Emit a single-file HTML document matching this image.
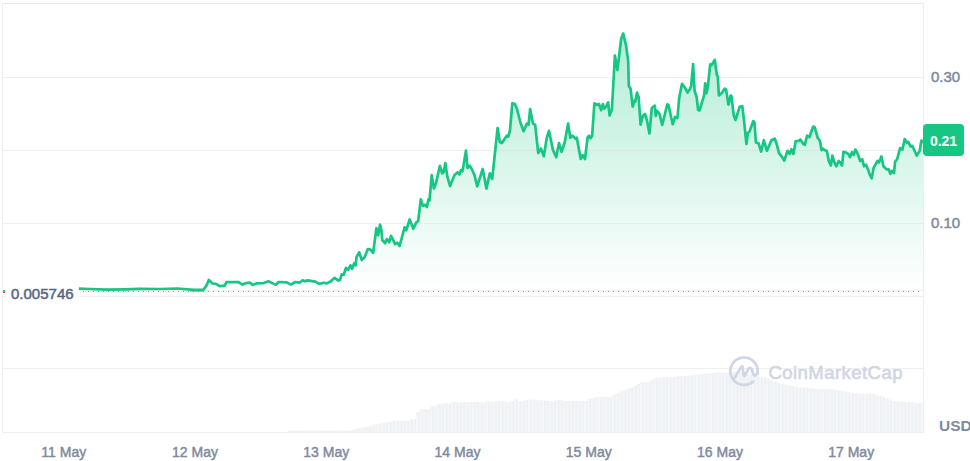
<!DOCTYPE html>
<html><head><meta charset="utf-8"><style>
html,body{margin:0;padding:0;background:#fff;}
body{width:970px;height:461px;position:relative;overflow:hidden;font-family:"Liberation Sans",sans-serif;}
svg{position:absolute;left:0;top:0;}
.xl{position:absolute;top:444px;width:80px;text-align:center;font-size:14px;color:#808a9d;line-height:16px;-webkit-text-stroke:0.45px #808a9d;}
.yl{position:absolute;left:931px;font-size:15px;color:#808a9d;line-height:16px;-webkit-text-stroke:0.5px #808a9d;}
.badge{position:absolute;left:923px;top:124px;width:41px;height:32px;background:#16c784;border-radius:4px;color:#fff;font-weight:bold;font-size:14px;line-height:34px;text-align:center;}
.open{position:absolute;left:11px;top:286px;font-size:15px;color:#58667e;line-height:16px;-webkit-text-stroke:0.5px #58667e;}
.usd{position:absolute;left:939px;top:418px;font-size:15.5px;color:#808a9d;font-weight:bold;line-height:16px;}
.wm{position:absolute;left:768.5px;top:363px;font-size:18.5px;letter-spacing:0.45px;color:#cfd6e4;line-height:20px;-webkit-text-stroke:0.6px #cfd6e4;}
</style></head><body>
<svg width="970" height="461" viewBox="0 0 970 461">
<defs>
<linearGradient id="g" x1="0" y1="32" x2="0" y2="291" gradientUnits="userSpaceOnUse">
<stop offset="0" stop-color="#16c784" stop-opacity="0.33"/>
<stop offset="1" stop-color="#16c784" stop-opacity="0.0"/>
</linearGradient>
</defs>
<g shape-rendering="crispEdges" fill="#efefef">
<rect x="3" y="3" width="921" height="1" fill="#e8eaea"/>
<rect x="2" y="3" width="1" height="430" fill="#eeeeee"/>
<rect x="923" y="3" width="1" height="430" fill="#eeeeee"/>
<rect x="2" y="432" width="922" height="1" fill="#eeeeee"/>
<rect x="3" y="77" width="920" height="1"/>
<rect x="3" y="150" width="920" height="1"/>
<rect x="3" y="223" width="920" height="1"/>
<rect x="3" y="296" width="920" height="1"/>
<rect x="3" y="368" width="920" height="1"/>
</g>
<polygon points="288,432 288,430.5 290,430.5 290,430.5 293.5,430.5 293.5,430.5 297,430.5 297,430.5 300.5,430.5 300.5,430.5 304,430.5 304,430.5 307.5,430.5 307.5,430.5 311,430.5 311,430.5 314.5,430.5 314.5,430.5 318,430.5 318,430.5 321.5,430.5 321.5,430.5 325,430.5 325,430.5 328.5,430.5 328.5,430.5 332,430.5 332,430.5 335.5,430.5 335.5,430.5 339,430.5 339,430.5 342.5,430.5 342.5,430.5 346,430.5 346,430.5 349.5,430.5 349.5,430.5 353,430.5 353,429.01 356.5,429.01 356.5,428.38 360,428.38 360,427.78 363.5,427.78 363.5,427.22 367,427.22 367,426.44 370.5,426.44 370.5,425.52 374,425.52 374,424.6 377.5,424.6 377.5,423.76 381,423.76 381,422.96 384.5,422.96 384.5,422.45 388,422.45 388,421.98 391.5,421.98 391.5,420.96 395,420.96 395,420.67 398.5,420.67 398.5,420.76 402,420.76 402,420.86 405.5,420.86 405.5,420.96 409,420.96 409,419.3 412.5,419.3 412.5,419.3 416,419.3 416,412 419.5,412 419.5,409.3 423,409.3 423,409.3 426.5,409.3 426.5,409.3 430,409.3 430,406.3 433.5,406.3 433.5,406.3 437,406.3 437,404 440.5,404 440.5,404 444,404 444,403.2 447.5,403.2 447.5,403.2 451,403.2 451,402 454.5,402 454.5,402 458,402 458,402.79 461.5,402.79 461.5,402.21 465,402.21 465,402.01 468.5,402.01 468.5,402.03 472,402.03 472,402.04 475.5,402.04 475.5,402.06 479,402.06 479,402.07 482.5,402.07 482.5,402.09 486,402.09 486,401.27 489.5,401.27 489.5,401.43 493,401.43 493,401.63 496.5,401.63 496.5,400.86 500,400.86 500,401.26 503.5,401.26 503.5,401.65 507,401.65 507,402.05 510.5,402.05 510.5,400.77 514,400.77 514,399.55 517.5,399.55 517.5,401 521,401 521,400.65 524.5,400.65 524.5,400.17 528,400.17 528,399.69 531.5,399.69 531.5,399.52 535,399.52 535,399.82 538.5,399.82 538.5,400.13 542,400.13 542,400.43 545.5,400.43 545.5,400.74 549,400.74 549,401.04 552.5,401.04 552.5,400.58 556,400.58 556,399.95 559.5,399.95 559.5,400.06 563,400.06 563,401.09 566.5,401.09 566.5,401.1 570,401.1 570,401.1 573.5,401.1 573.5,401.1 577,401.1 577,401.1 580.5,401.1 580.5,401.1 584,401.1 584,400.93 587.5,400.93 587.5,398.84 591,398.84 591,397.99 594.5,397.99 594.5,397.13 598,397.13 598,397 601.5,397 601.5,397 605,397 605,397 608.5,397 608.5,397 612,397 612,394.75 615.5,394.75 615.5,392.8 619,392.8 619,391.49 622.5,391.49 622.5,390.12 626,390.12 626,388.86 629.5,388.86 629.5,388.07 633,388.07 633,385.94 636.5,385.94 636.5,383.76 640,383.76 640,382 643.5,382 643.5,382 647,382 647,382 650.5,382 650.5,379.75 654,379.75 654,378.26 657.5,378.26 657.5,377.72 661,377.72 661,377.35 664.5,377.35 664.5,376.98 668,376.98 668,376.96 671.5,376.96 671.5,376.77 675,376.77 675,376.57 678.5,376.57 678.5,376.36 682,376.36 682,376.1 685.5,376.1 685.5,375.84 689,375.84 689,375.55 692.5,375.55 692.5,375.09 696,375.09 696,374.63 699.5,374.63 699.5,374.21 703,374.21 703,373.82 706.5,373.82 706.5,373.44 710,373.44 710,373.11 713.5,373.11 713.5,372.8 717,372.8 717,372.48 720.5,372.48 720.5,372.38 724,372.38 724,372.55 727.5,372.55 727.5,372.5 731,372.5 731,372.37 734.5,372.37 734.5,372.23 738,372.23 738,372.09 741.5,372.09 741.5,372.33 745,372.33 745,373.25 748.5,373.25 748.5,374.17 752,374.17 752,375.1 755.5,375.1 755.5,376.02 759,376.02 759,376.8 762.5,376.8 762.5,377.5 766,377.5 766,378.53 769.5,378.53 769.5,380.05 773,380.05 773,381.57 776.5,381.57 776.5,382.83 780,382.83 780,383.69 783.5,383.69 783.5,384.55 787,384.55 787,385.41 790.5,385.41 790.5,386.06 794,386.06 794,386.67 797.5,386.67 797.5,387.16 801,387.16 801,387.51 804.5,387.51 804.5,387.85 808,387.85 808,388.2 811.5,388.2 811.5,388.55 815,388.55 815,388.92 818.5,388.92 818.5,389.28 822,389.28 822,389.3 825.5,389.3 825.5,389.3 829,389.3 829,389.3 832.5,389.3 832.5,389.6 836,389.6 836,390.19 839.5,390.19 839.5,390.79 843,390.79 843,391.41 846.5,391.41 846.5,392.06 850,392.06 850,392.72 853.5,392.72 853.5,393.21 857,393.21 857,393.48 860.5,393.48 860.5,393.75 864,393.75 864,393.8 867.5,393.8 867.5,393.8 871,393.8 871,393.8 874.5,393.8 874.5,394.63 878,394.63 878,395.69 881.5,395.69 881.5,396.98 885,396.98 885,398.4 888.5,398.4 888.5,399.65 892,399.65 892,400.66 895.5,400.66 895.5,401.45 899,401.45 899,401.63 902.5,401.63 902.5,401.82 906,401.82 906,402 909.5,402 909.5,402.19 913,402.19 913,402.54 916.5,402.54 916.5,402.91 920,402.91 920,402.49 922.5,402.49 922.5,432" fill="#f3f5f7"/>
<g fill="#eef1f4" clip-path="url(#vc)"><rect x="288.60" y="360" width="1.4" height="73"/><rect x="292.10" y="360" width="1.4" height="73"/><rect x="295.60" y="360" width="1.4" height="73"/><rect x="299.10" y="360" width="1.4" height="73"/><rect x="302.60" y="360" width="1.4" height="73"/><rect x="306.10" y="360" width="1.4" height="73"/><rect x="309.60" y="360" width="1.4" height="73"/><rect x="313.10" y="360" width="1.4" height="73"/><rect x="316.60" y="360" width="1.4" height="73"/><rect x="320.10" y="360" width="1.4" height="73"/><rect x="323.60" y="360" width="1.4" height="73"/><rect x="327.10" y="360" width="1.4" height="73"/><rect x="330.60" y="360" width="1.4" height="73"/><rect x="334.10" y="360" width="1.4" height="73"/><rect x="337.60" y="360" width="1.4" height="73"/><rect x="341.10" y="360" width="1.4" height="73"/><rect x="344.60" y="360" width="1.4" height="73"/><rect x="348.10" y="360" width="1.4" height="73"/><rect x="351.60" y="360" width="1.4" height="73"/><rect x="355.10" y="360" width="1.4" height="73"/><rect x="358.60" y="360" width="1.4" height="73"/><rect x="362.10" y="360" width="1.4" height="73"/><rect x="365.60" y="360" width="1.4" height="73"/><rect x="369.10" y="360" width="1.4" height="73"/><rect x="372.60" y="360" width="1.4" height="73"/><rect x="376.10" y="360" width="1.4" height="73"/><rect x="379.60" y="360" width="1.4" height="73"/><rect x="383.10" y="360" width="1.4" height="73"/><rect x="386.60" y="360" width="1.4" height="73"/><rect x="390.10" y="360" width="1.4" height="73"/><rect x="393.60" y="360" width="1.4" height="73"/><rect x="397.10" y="360" width="1.4" height="73"/><rect x="400.60" y="360" width="1.4" height="73"/><rect x="404.10" y="360" width="1.4" height="73"/><rect x="407.60" y="360" width="1.4" height="73"/><rect x="411.10" y="360" width="1.4" height="73"/><rect x="414.60" y="360" width="1.4" height="73"/><rect x="418.10" y="360" width="1.4" height="73"/><rect x="421.60" y="360" width="1.4" height="73"/><rect x="425.10" y="360" width="1.4" height="73"/><rect x="428.60" y="360" width="1.4" height="73"/><rect x="432.10" y="360" width="1.4" height="73"/><rect x="435.60" y="360" width="1.4" height="73"/><rect x="439.10" y="360" width="1.4" height="73"/><rect x="442.60" y="360" width="1.4" height="73"/><rect x="446.10" y="360" width="1.4" height="73"/><rect x="449.60" y="360" width="1.4" height="73"/><rect x="453.10" y="360" width="1.4" height="73"/><rect x="456.60" y="360" width="1.4" height="73"/><rect x="460.10" y="360" width="1.4" height="73"/><rect x="463.60" y="360" width="1.4" height="73"/><rect x="467.10" y="360" width="1.4" height="73"/><rect x="470.60" y="360" width="1.4" height="73"/><rect x="474.10" y="360" width="1.4" height="73"/><rect x="477.60" y="360" width="1.4" height="73"/><rect x="481.10" y="360" width="1.4" height="73"/><rect x="484.60" y="360" width="1.4" height="73"/><rect x="488.10" y="360" width="1.4" height="73"/><rect x="491.60" y="360" width="1.4" height="73"/><rect x="495.10" y="360" width="1.4" height="73"/><rect x="498.60" y="360" width="1.4" height="73"/><rect x="502.10" y="360" width="1.4" height="73"/><rect x="505.60" y="360" width="1.4" height="73"/><rect x="509.10" y="360" width="1.4" height="73"/><rect x="512.60" y="360" width="1.4" height="73"/><rect x="516.10" y="360" width="1.4" height="73"/><rect x="519.60" y="360" width="1.4" height="73"/><rect x="523.10" y="360" width="1.4" height="73"/><rect x="526.60" y="360" width="1.4" height="73"/><rect x="530.10" y="360" width="1.4" height="73"/><rect x="533.60" y="360" width="1.4" height="73"/><rect x="537.10" y="360" width="1.4" height="73"/><rect x="540.60" y="360" width="1.4" height="73"/><rect x="544.10" y="360" width="1.4" height="73"/><rect x="547.60" y="360" width="1.4" height="73"/><rect x="551.10" y="360" width="1.4" height="73"/><rect x="554.60" y="360" width="1.4" height="73"/><rect x="558.10" y="360" width="1.4" height="73"/><rect x="561.60" y="360" width="1.4" height="73"/><rect x="565.10" y="360" width="1.4" height="73"/><rect x="568.60" y="360" width="1.4" height="73"/><rect x="572.10" y="360" width="1.4" height="73"/><rect x="575.60" y="360" width="1.4" height="73"/><rect x="579.10" y="360" width="1.4" height="73"/><rect x="582.60" y="360" width="1.4" height="73"/><rect x="586.10" y="360" width="1.4" height="73"/><rect x="589.60" y="360" width="1.4" height="73"/><rect x="593.10" y="360" width="1.4" height="73"/><rect x="596.60" y="360" width="1.4" height="73"/><rect x="600.10" y="360" width="1.4" height="73"/><rect x="603.60" y="360" width="1.4" height="73"/><rect x="607.10" y="360" width="1.4" height="73"/><rect x="610.60" y="360" width="1.4" height="73"/><rect x="614.10" y="360" width="1.4" height="73"/><rect x="617.60" y="360" width="1.4" height="73"/><rect x="621.10" y="360" width="1.4" height="73"/><rect x="624.60" y="360" width="1.4" height="73"/><rect x="628.10" y="360" width="1.4" height="73"/><rect x="631.60" y="360" width="1.4" height="73"/><rect x="635.10" y="360" width="1.4" height="73"/><rect x="638.60" y="360" width="1.4" height="73"/><rect x="642.10" y="360" width="1.4" height="73"/><rect x="645.60" y="360" width="1.4" height="73"/><rect x="649.10" y="360" width="1.4" height="73"/><rect x="652.60" y="360" width="1.4" height="73"/><rect x="656.10" y="360" width="1.4" height="73"/><rect x="659.60" y="360" width="1.4" height="73"/><rect x="663.10" y="360" width="1.4" height="73"/><rect x="666.60" y="360" width="1.4" height="73"/><rect x="670.10" y="360" width="1.4" height="73"/><rect x="673.60" y="360" width="1.4" height="73"/><rect x="677.10" y="360" width="1.4" height="73"/><rect x="680.60" y="360" width="1.4" height="73"/><rect x="684.10" y="360" width="1.4" height="73"/><rect x="687.60" y="360" width="1.4" height="73"/><rect x="691.10" y="360" width="1.4" height="73"/><rect x="694.60" y="360" width="1.4" height="73"/><rect x="698.10" y="360" width="1.4" height="73"/><rect x="701.60" y="360" width="1.4" height="73"/><rect x="705.10" y="360" width="1.4" height="73"/><rect x="708.60" y="360" width="1.4" height="73"/><rect x="712.10" y="360" width="1.4" height="73"/><rect x="715.60" y="360" width="1.4" height="73"/><rect x="719.10" y="360" width="1.4" height="73"/><rect x="722.60" y="360" width="1.4" height="73"/><rect x="726.10" y="360" width="1.4" height="73"/><rect x="729.60" y="360" width="1.4" height="73"/><rect x="733.10" y="360" width="1.4" height="73"/><rect x="736.60" y="360" width="1.4" height="73"/><rect x="740.10" y="360" width="1.4" height="73"/><rect x="743.60" y="360" width="1.4" height="73"/><rect x="747.10" y="360" width="1.4" height="73"/><rect x="750.60" y="360" width="1.4" height="73"/><rect x="754.10" y="360" width="1.4" height="73"/><rect x="757.60" y="360" width="1.4" height="73"/><rect x="761.10" y="360" width="1.4" height="73"/><rect x="764.60" y="360" width="1.4" height="73"/><rect x="768.10" y="360" width="1.4" height="73"/><rect x="771.60" y="360" width="1.4" height="73"/><rect x="775.10" y="360" width="1.4" height="73"/><rect x="778.60" y="360" width="1.4" height="73"/><rect x="782.10" y="360" width="1.4" height="73"/><rect x="785.60" y="360" width="1.4" height="73"/><rect x="789.10" y="360" width="1.4" height="73"/><rect x="792.60" y="360" width="1.4" height="73"/><rect x="796.10" y="360" width="1.4" height="73"/><rect x="799.60" y="360" width="1.4" height="73"/><rect x="803.10" y="360" width="1.4" height="73"/><rect x="806.60" y="360" width="1.4" height="73"/><rect x="810.10" y="360" width="1.4" height="73"/><rect x="813.60" y="360" width="1.4" height="73"/><rect x="817.10" y="360" width="1.4" height="73"/><rect x="820.60" y="360" width="1.4" height="73"/><rect x="824.10" y="360" width="1.4" height="73"/><rect x="827.60" y="360" width="1.4" height="73"/><rect x="831.10" y="360" width="1.4" height="73"/><rect x="834.60" y="360" width="1.4" height="73"/><rect x="838.10" y="360" width="1.4" height="73"/><rect x="841.60" y="360" width="1.4" height="73"/><rect x="845.10" y="360" width="1.4" height="73"/><rect x="848.60" y="360" width="1.4" height="73"/><rect x="852.10" y="360" width="1.4" height="73"/><rect x="855.60" y="360" width="1.4" height="73"/><rect x="859.10" y="360" width="1.4" height="73"/><rect x="862.60" y="360" width="1.4" height="73"/><rect x="866.10" y="360" width="1.4" height="73"/><rect x="869.60" y="360" width="1.4" height="73"/><rect x="873.10" y="360" width="1.4" height="73"/><rect x="876.60" y="360" width="1.4" height="73"/><rect x="880.10" y="360" width="1.4" height="73"/><rect x="883.60" y="360" width="1.4" height="73"/><rect x="887.10" y="360" width="1.4" height="73"/><rect x="890.60" y="360" width="1.4" height="73"/><rect x="894.10" y="360" width="1.4" height="73"/><rect x="897.60" y="360" width="1.4" height="73"/><rect x="901.10" y="360" width="1.4" height="73"/><rect x="904.60" y="360" width="1.4" height="73"/><rect x="908.10" y="360" width="1.4" height="73"/><rect x="911.60" y="360" width="1.4" height="73"/><rect x="915.10" y="360" width="1.4" height="73"/><rect x="918.60" y="360" width="1.4" height="73"/></g>
<clipPath id="vc"><polygon points="288,432 288,430.5 290,430.5 290,430.5 293.5,430.5 293.5,430.5 297,430.5 297,430.5 300.5,430.5 300.5,430.5 304,430.5 304,430.5 307.5,430.5 307.5,430.5 311,430.5 311,430.5 314.5,430.5 314.5,430.5 318,430.5 318,430.5 321.5,430.5 321.5,430.5 325,430.5 325,430.5 328.5,430.5 328.5,430.5 332,430.5 332,430.5 335.5,430.5 335.5,430.5 339,430.5 339,430.5 342.5,430.5 342.5,430.5 346,430.5 346,430.5 349.5,430.5 349.5,430.5 353,430.5 353,429.01 356.5,429.01 356.5,428.38 360,428.38 360,427.78 363.5,427.78 363.5,427.22 367,427.22 367,426.44 370.5,426.44 370.5,425.52 374,425.52 374,424.6 377.5,424.6 377.5,423.76 381,423.76 381,422.96 384.5,422.96 384.5,422.45 388,422.45 388,421.98 391.5,421.98 391.5,420.96 395,420.96 395,420.67 398.5,420.67 398.5,420.76 402,420.76 402,420.86 405.5,420.86 405.5,420.96 409,420.96 409,419.3 412.5,419.3 412.5,419.3 416,419.3 416,412 419.5,412 419.5,409.3 423,409.3 423,409.3 426.5,409.3 426.5,409.3 430,409.3 430,406.3 433.5,406.3 433.5,406.3 437,406.3 437,404 440.5,404 440.5,404 444,404 444,403.2 447.5,403.2 447.5,403.2 451,403.2 451,402 454.5,402 454.5,402 458,402 458,402.79 461.5,402.79 461.5,402.21 465,402.21 465,402.01 468.5,402.01 468.5,402.03 472,402.03 472,402.04 475.5,402.04 475.5,402.06 479,402.06 479,402.07 482.5,402.07 482.5,402.09 486,402.09 486,401.27 489.5,401.27 489.5,401.43 493,401.43 493,401.63 496.5,401.63 496.5,400.86 500,400.86 500,401.26 503.5,401.26 503.5,401.65 507,401.65 507,402.05 510.5,402.05 510.5,400.77 514,400.77 514,399.55 517.5,399.55 517.5,401 521,401 521,400.65 524.5,400.65 524.5,400.17 528,400.17 528,399.69 531.5,399.69 531.5,399.52 535,399.52 535,399.82 538.5,399.82 538.5,400.13 542,400.13 542,400.43 545.5,400.43 545.5,400.74 549,400.74 549,401.04 552.5,401.04 552.5,400.58 556,400.58 556,399.95 559.5,399.95 559.5,400.06 563,400.06 563,401.09 566.5,401.09 566.5,401.1 570,401.1 570,401.1 573.5,401.1 573.5,401.1 577,401.1 577,401.1 580.5,401.1 580.5,401.1 584,401.1 584,400.93 587.5,400.93 587.5,398.84 591,398.84 591,397.99 594.5,397.99 594.5,397.13 598,397.13 598,397 601.5,397 601.5,397 605,397 605,397 608.5,397 608.5,397 612,397 612,394.75 615.5,394.75 615.5,392.8 619,392.8 619,391.49 622.5,391.49 622.5,390.12 626,390.12 626,388.86 629.5,388.86 629.5,388.07 633,388.07 633,385.94 636.5,385.94 636.5,383.76 640,383.76 640,382 643.5,382 643.5,382 647,382 647,382 650.5,382 650.5,379.75 654,379.75 654,378.26 657.5,378.26 657.5,377.72 661,377.72 661,377.35 664.5,377.35 664.5,376.98 668,376.98 668,376.96 671.5,376.96 671.5,376.77 675,376.77 675,376.57 678.5,376.57 678.5,376.36 682,376.36 682,376.1 685.5,376.1 685.5,375.84 689,375.84 689,375.55 692.5,375.55 692.5,375.09 696,375.09 696,374.63 699.5,374.63 699.5,374.21 703,374.21 703,373.82 706.5,373.82 706.5,373.44 710,373.44 710,373.11 713.5,373.11 713.5,372.8 717,372.8 717,372.48 720.5,372.48 720.5,372.38 724,372.38 724,372.55 727.5,372.55 727.5,372.5 731,372.5 731,372.37 734.5,372.37 734.5,372.23 738,372.23 738,372.09 741.5,372.09 741.5,372.33 745,372.33 745,373.25 748.5,373.25 748.5,374.17 752,374.17 752,375.1 755.5,375.1 755.5,376.02 759,376.02 759,376.8 762.5,376.8 762.5,377.5 766,377.5 766,378.53 769.5,378.53 769.5,380.05 773,380.05 773,381.57 776.5,381.57 776.5,382.83 780,382.83 780,383.69 783.5,383.69 783.5,384.55 787,384.55 787,385.41 790.5,385.41 790.5,386.06 794,386.06 794,386.67 797.5,386.67 797.5,387.16 801,387.16 801,387.51 804.5,387.51 804.5,387.85 808,387.85 808,388.2 811.5,388.2 811.5,388.55 815,388.55 815,388.92 818.5,388.92 818.5,389.28 822,389.28 822,389.3 825.5,389.3 825.5,389.3 829,389.3 829,389.3 832.5,389.3 832.5,389.6 836,389.6 836,390.19 839.5,390.19 839.5,390.79 843,390.79 843,391.41 846.5,391.41 846.5,392.06 850,392.06 850,392.72 853.5,392.72 853.5,393.21 857,393.21 857,393.48 860.5,393.48 860.5,393.75 864,393.75 864,393.8 867.5,393.8 867.5,393.8 871,393.8 871,393.8 874.5,393.8 874.5,394.63 878,394.63 878,395.69 881.5,395.69 881.5,396.98 885,396.98 885,398.4 888.5,398.4 888.5,399.65 892,399.65 892,400.66 895.5,400.66 895.5,401.45 899,401.45 899,401.63 902.5,401.63 902.5,401.82 906,401.82 906,402 909.5,402 909.5,402.19 913,402.19 913,402.54 916.5,402.54 916.5,402.91 920,402.91 920,402.49 922.5,402.49 922.5,432"/></clipPath>
<polygon points="79,288.7 90,289 107,289.6 125,289.3 139,288.8 160,289 177.5,288.5 194,289.8 203.5,289.8 206.6,285.2 208.8,279.9 212.4,283.5 216,283.9 219.6,286.1 224.7,285.7 226.5,282.1 231.2,282.1 238.2,282 242.6,284.6 246.2,283.1 249.8,282.7 252.7,284.9 256.3,283.4 263.5,283.1 268.5,281.3 272.2,283.1 275.8,284.9 278.6,282 286.6,282.4 290.9,284.6 295.2,282 299.6,282.7 302.5,280.3 305.3,281.3 307.5,280.3 315.4,281.7 319,283.9 324.1,282.8 326.3,283.4 330.6,281.6 334.6,277.8 338.2,280.6 340,279.9 341.7,274.3 343.8,274.7 345.9,268 348.3,269.8 350.4,265.3 352.1,268.8 354.2,263.2 355.6,265.3 356.6,256.8 359.1,252.3 361.8,260 364.6,257.3 367.8,249.1 370.5,249.6 373.2,252.8 376.4,228.2 378.2,235.5 380,224.6 381.4,230 382.3,240 385.1,243.2 386.9,239.1 389.2,242.3 391,235.9 392.8,239.1 395.1,244.1 397.4,242.8 399.6,246 404.6,227.4 406.2,230.3 409.7,219.5 413.3,228.7 416.5,222.2 418.2,221.1 420.8,199.4 423,205.9 425.2,204.8 426.9,207 428.4,199.4 429.5,200.5 431.7,175.1 433.9,188.6 436,183.1 439.9,165.8 442.1,173.4 443.6,172.3 445.4,163 447.3,176.6 450.1,186 454.5,175.1 457.7,172.3 459.5,174.5 461,170.1 462.5,171.2 466,150.6 467.5,168 469.7,165.8 471.8,169 474.6,175.5 477.2,186.4 482.7,169 486.4,188.6 489.8,173.4 492.2,178.9 497.6,128 499.8,142 501.9,143.1 506.9,135.6 508.4,136.6 510,130.1 512.3,103.4 514.9,104.1 517.1,109.5 520.4,122.5 523.6,131.2 526.9,123.6 528.6,124.7 530.1,109.1 533,123.6 535.1,124.7 538.2,152.9 541,148.6 543.8,156.2 546.8,137.7 549,130.8 552.9,149.7 556.2,157.2 559,143.1 561.6,151.8 564.8,142 568.1,123.6 570.3,137.7 572.4,135.6 575.7,138.8 576.8,137.7 580.7,159 582.8,155.1 585,159 587.6,137.5 589.1,135.7 590.6,138.2 592.1,136 594.4,103.3 596.7,104.9 599,104.1 601.2,110.2 602.8,104.1 604.3,108.7 606.1,106.4 608.1,102.3 609.6,115.5 611.9,109.4 614.9,55.5 617.4,70 621.2,38.5 623.2,33.6 626,45.3 628.2,61 628.8,86 630.5,88.5 632.7,106.5 634.4,100.8 635.3,101.5 637,92.7 638.6,97 640.6,124.7 642.9,115.8 645,114 647,120.5 649.4,133.5 651.8,108 654.8,105.6 655.8,115.8 657.2,111 659.6,114 662.2,125 667.3,104.4 668.5,105 672.7,124.2 675.1,117 677.4,118 679.2,97.9 682,83.8 684.6,87.2 687.6,92.5 690,89 691.2,85.7 693.1,64 694.6,91 696.6,97 698.1,109.9 699.6,110.4 702.6,100.1 704.1,95.5 705.2,83.4 706.4,93.2 707.9,86.4 710.2,64.4 711.7,65.2 712.9,62.9 714.8,59.9 716.7,74.3 717.8,76.6 718.9,95.5 721.6,93.2 724.6,88.7 726.1,89.5 728.4,104.6 730.7,95.5 731.5,96.3 733.7,115.2 735.5,120 739.6,106.8 742.3,106.1 744.1,121.2 746.4,144 747.9,132.6 749.4,131.9 753.2,121.2 754.4,122 755.9,142.5 758.5,143.2 761.1,151.6 763.8,140.2 766.9,150.8 771.4,140.2 774.8,138.7 776.7,144 779,153.1 782,156.9 784.3,160.7 787.4,150.8 789.6,153.9 791.4,149.3 793.4,153.9 795.7,141 798.7,141 800.3,139.5 803.3,144 804.8,144.8 807.1,135.7 809.4,137.2 813.1,126.6 814.7,127.3 817.7,137.9 820,141 821.5,150.1 823,148.6 824.5,150.1 826.8,151.1 828.8,161 830.8,165.5 832.3,155.7 834.4,162.5 836.4,166.3 838.7,161 840.2,162.5 842,165.5 843.5,151.9 846.2,152.6 848.5,154.1 850,157.2 852,152.2 853.8,154.9 855.3,149.6 856.9,151.9 860.2,161 862.2,159.2 864.1,166.3 866,164.8 868.2,170.1 869.8,174.6 871.7,178.4 873.6,167.8 877.4,161 878.9,162.5 881.4,156.4 883.4,166.3 886.5,169.3 888.7,169.3 890.3,173.9 891.8,170.8 894,173.1 895.1,161.7 897.1,159.4 900.1,148.1 902.4,149.6 904.7,139 906.9,142.8 908.2,142 910.7,146.6 912.3,145.8 916.8,155.7 919.8,150.3 921.4,140.5 923,142 923,291 79,291" fill="#fff"/>
<polygon points="79,288.7 90,289 107,289.6 125,289.3 139,288.8 160,289 177.5,288.5 194,289.8 203.5,289.8 206.6,285.2 208.8,279.9 212.4,283.5 216,283.9 219.6,286.1 224.7,285.7 226.5,282.1 231.2,282.1 238.2,282 242.6,284.6 246.2,283.1 249.8,282.7 252.7,284.9 256.3,283.4 263.5,283.1 268.5,281.3 272.2,283.1 275.8,284.9 278.6,282 286.6,282.4 290.9,284.6 295.2,282 299.6,282.7 302.5,280.3 305.3,281.3 307.5,280.3 315.4,281.7 319,283.9 324.1,282.8 326.3,283.4 330.6,281.6 334.6,277.8 338.2,280.6 340,279.9 341.7,274.3 343.8,274.7 345.9,268 348.3,269.8 350.4,265.3 352.1,268.8 354.2,263.2 355.6,265.3 356.6,256.8 359.1,252.3 361.8,260 364.6,257.3 367.8,249.1 370.5,249.6 373.2,252.8 376.4,228.2 378.2,235.5 380,224.6 381.4,230 382.3,240 385.1,243.2 386.9,239.1 389.2,242.3 391,235.9 392.8,239.1 395.1,244.1 397.4,242.8 399.6,246 404.6,227.4 406.2,230.3 409.7,219.5 413.3,228.7 416.5,222.2 418.2,221.1 420.8,199.4 423,205.9 425.2,204.8 426.9,207 428.4,199.4 429.5,200.5 431.7,175.1 433.9,188.6 436,183.1 439.9,165.8 442.1,173.4 443.6,172.3 445.4,163 447.3,176.6 450.1,186 454.5,175.1 457.7,172.3 459.5,174.5 461,170.1 462.5,171.2 466,150.6 467.5,168 469.7,165.8 471.8,169 474.6,175.5 477.2,186.4 482.7,169 486.4,188.6 489.8,173.4 492.2,178.9 497.6,128 499.8,142 501.9,143.1 506.9,135.6 508.4,136.6 510,130.1 512.3,103.4 514.9,104.1 517.1,109.5 520.4,122.5 523.6,131.2 526.9,123.6 528.6,124.7 530.1,109.1 533,123.6 535.1,124.7 538.2,152.9 541,148.6 543.8,156.2 546.8,137.7 549,130.8 552.9,149.7 556.2,157.2 559,143.1 561.6,151.8 564.8,142 568.1,123.6 570.3,137.7 572.4,135.6 575.7,138.8 576.8,137.7 580.7,159 582.8,155.1 585,159 587.6,137.5 589.1,135.7 590.6,138.2 592.1,136 594.4,103.3 596.7,104.9 599,104.1 601.2,110.2 602.8,104.1 604.3,108.7 606.1,106.4 608.1,102.3 609.6,115.5 611.9,109.4 614.9,55.5 617.4,70 621.2,38.5 623.2,33.6 626,45.3 628.2,61 628.8,86 630.5,88.5 632.7,106.5 634.4,100.8 635.3,101.5 637,92.7 638.6,97 640.6,124.7 642.9,115.8 645,114 647,120.5 649.4,133.5 651.8,108 654.8,105.6 655.8,115.8 657.2,111 659.6,114 662.2,125 667.3,104.4 668.5,105 672.7,124.2 675.1,117 677.4,118 679.2,97.9 682,83.8 684.6,87.2 687.6,92.5 690,89 691.2,85.7 693.1,64 694.6,91 696.6,97 698.1,109.9 699.6,110.4 702.6,100.1 704.1,95.5 705.2,83.4 706.4,93.2 707.9,86.4 710.2,64.4 711.7,65.2 712.9,62.9 714.8,59.9 716.7,74.3 717.8,76.6 718.9,95.5 721.6,93.2 724.6,88.7 726.1,89.5 728.4,104.6 730.7,95.5 731.5,96.3 733.7,115.2 735.5,120 739.6,106.8 742.3,106.1 744.1,121.2 746.4,144 747.9,132.6 749.4,131.9 753.2,121.2 754.4,122 755.9,142.5 758.5,143.2 761.1,151.6 763.8,140.2 766.9,150.8 771.4,140.2 774.8,138.7 776.7,144 779,153.1 782,156.9 784.3,160.7 787.4,150.8 789.6,153.9 791.4,149.3 793.4,153.9 795.7,141 798.7,141 800.3,139.5 803.3,144 804.8,144.8 807.1,135.7 809.4,137.2 813.1,126.6 814.7,127.3 817.7,137.9 820,141 821.5,150.1 823,148.6 824.5,150.1 826.8,151.1 828.8,161 830.8,165.5 832.3,155.7 834.4,162.5 836.4,166.3 838.7,161 840.2,162.5 842,165.5 843.5,151.9 846.2,152.6 848.5,154.1 850,157.2 852,152.2 853.8,154.9 855.3,149.6 856.9,151.9 860.2,161 862.2,159.2 864.1,166.3 866,164.8 868.2,170.1 869.8,174.6 871.7,178.4 873.6,167.8 877.4,161 878.9,162.5 881.4,156.4 883.4,166.3 886.5,169.3 888.7,169.3 890.3,173.9 891.8,170.8 894,173.1 895.1,161.7 897.1,159.4 900.1,148.1 902.4,149.6 904.7,139 906.9,142.8 908.2,142 910.7,146.6 912.3,145.8 916.8,155.7 919.8,150.3 921.4,140.5 923,142 923,291 79,291" fill="url(#g)"/>
<g fill="#e0c8d8" opacity="0.3" shape-rendering="crispEdges" clip-path="url(#ac)"><rect x="3" y="150" width="920" height="1"/><rect x="3" y="223" width="920" height="1"/></g>
<clipPath id="ac"><polygon points="79,288.7 90,289 107,289.6 125,289.3 139,288.8 160,289 177.5,288.5 194,289.8 203.5,289.8 206.6,285.2 208.8,279.9 212.4,283.5 216,283.9 219.6,286.1 224.7,285.7 226.5,282.1 231.2,282.1 238.2,282 242.6,284.6 246.2,283.1 249.8,282.7 252.7,284.9 256.3,283.4 263.5,283.1 268.5,281.3 272.2,283.1 275.8,284.9 278.6,282 286.6,282.4 290.9,284.6 295.2,282 299.6,282.7 302.5,280.3 305.3,281.3 307.5,280.3 315.4,281.7 319,283.9 324.1,282.8 326.3,283.4 330.6,281.6 334.6,277.8 338.2,280.6 340,279.9 341.7,274.3 343.8,274.7 345.9,268 348.3,269.8 350.4,265.3 352.1,268.8 354.2,263.2 355.6,265.3 356.6,256.8 359.1,252.3 361.8,260 364.6,257.3 367.8,249.1 370.5,249.6 373.2,252.8 376.4,228.2 378.2,235.5 380,224.6 381.4,230 382.3,240 385.1,243.2 386.9,239.1 389.2,242.3 391,235.9 392.8,239.1 395.1,244.1 397.4,242.8 399.6,246 404.6,227.4 406.2,230.3 409.7,219.5 413.3,228.7 416.5,222.2 418.2,221.1 420.8,199.4 423,205.9 425.2,204.8 426.9,207 428.4,199.4 429.5,200.5 431.7,175.1 433.9,188.6 436,183.1 439.9,165.8 442.1,173.4 443.6,172.3 445.4,163 447.3,176.6 450.1,186 454.5,175.1 457.7,172.3 459.5,174.5 461,170.1 462.5,171.2 466,150.6 467.5,168 469.7,165.8 471.8,169 474.6,175.5 477.2,186.4 482.7,169 486.4,188.6 489.8,173.4 492.2,178.9 497.6,128 499.8,142 501.9,143.1 506.9,135.6 508.4,136.6 510,130.1 512.3,103.4 514.9,104.1 517.1,109.5 520.4,122.5 523.6,131.2 526.9,123.6 528.6,124.7 530.1,109.1 533,123.6 535.1,124.7 538.2,152.9 541,148.6 543.8,156.2 546.8,137.7 549,130.8 552.9,149.7 556.2,157.2 559,143.1 561.6,151.8 564.8,142 568.1,123.6 570.3,137.7 572.4,135.6 575.7,138.8 576.8,137.7 580.7,159 582.8,155.1 585,159 587.6,137.5 589.1,135.7 590.6,138.2 592.1,136 594.4,103.3 596.7,104.9 599,104.1 601.2,110.2 602.8,104.1 604.3,108.7 606.1,106.4 608.1,102.3 609.6,115.5 611.9,109.4 614.9,55.5 617.4,70 621.2,38.5 623.2,33.6 626,45.3 628.2,61 628.8,86 630.5,88.5 632.7,106.5 634.4,100.8 635.3,101.5 637,92.7 638.6,97 640.6,124.7 642.9,115.8 645,114 647,120.5 649.4,133.5 651.8,108 654.8,105.6 655.8,115.8 657.2,111 659.6,114 662.2,125 667.3,104.4 668.5,105 672.7,124.2 675.1,117 677.4,118 679.2,97.9 682,83.8 684.6,87.2 687.6,92.5 690,89 691.2,85.7 693.1,64 694.6,91 696.6,97 698.1,109.9 699.6,110.4 702.6,100.1 704.1,95.5 705.2,83.4 706.4,93.2 707.9,86.4 710.2,64.4 711.7,65.2 712.9,62.9 714.8,59.9 716.7,74.3 717.8,76.6 718.9,95.5 721.6,93.2 724.6,88.7 726.1,89.5 728.4,104.6 730.7,95.5 731.5,96.3 733.7,115.2 735.5,120 739.6,106.8 742.3,106.1 744.1,121.2 746.4,144 747.9,132.6 749.4,131.9 753.2,121.2 754.4,122 755.9,142.5 758.5,143.2 761.1,151.6 763.8,140.2 766.9,150.8 771.4,140.2 774.8,138.7 776.7,144 779,153.1 782,156.9 784.3,160.7 787.4,150.8 789.6,153.9 791.4,149.3 793.4,153.9 795.7,141 798.7,141 800.3,139.5 803.3,144 804.8,144.8 807.1,135.7 809.4,137.2 813.1,126.6 814.7,127.3 817.7,137.9 820,141 821.5,150.1 823,148.6 824.5,150.1 826.8,151.1 828.8,161 830.8,165.5 832.3,155.7 834.4,162.5 836.4,166.3 838.7,161 840.2,162.5 842,165.5 843.5,151.9 846.2,152.6 848.5,154.1 850,157.2 852,152.2 853.8,154.9 855.3,149.6 856.9,151.9 860.2,161 862.2,159.2 864.1,166.3 866,164.8 868.2,170.1 869.8,174.6 871.7,178.4 873.6,167.8 877.4,161 878.9,162.5 881.4,156.4 883.4,166.3 886.5,169.3 888.7,169.3 890.3,173.9 891.8,170.8 894,173.1 895.1,161.7 897.1,159.4 900.1,148.1 902.4,149.6 904.7,139 906.9,142.8 908.2,142 910.7,146.6 912.3,145.8 916.8,155.7 919.8,150.3 921.4,140.5 923,142 923,291 79,291"/></clipPath>
<g fill="#fcecec" shape-rendering="crispEdges"><rect x="5" y="290" width="918" height="1"/></g>
<rect x="190" y="290" width="14" height="1.5" fill="#ea3943" opacity="0.8"/>
<g fill="#8a93a6" shape-rendering="crispEdges"><rect x="83" y="291" width="1" height="1"/><rect x="88" y="291" width="1" height="1"/><rect x="93" y="291" width="1" height="1"/><rect x="98" y="291" width="1" height="1"/><rect x="103" y="291" width="1" height="1"/><rect x="108" y="291" width="1" height="1"/><rect x="113" y="291" width="1" height="1"/><rect x="118" y="291" width="1" height="1"/><rect x="123" y="291" width="1" height="1"/><rect x="128" y="291" width="1" height="1"/><rect x="133" y="291" width="1" height="1"/><rect x="138" y="291" width="1" height="1"/><rect x="143" y="291" width="1" height="1"/><rect x="148" y="291" width="1" height="1"/><rect x="153" y="291" width="1" height="1"/><rect x="158" y="291" width="1" height="1"/><rect x="163" y="291" width="1" height="1"/><rect x="168" y="291" width="1" height="1"/><rect x="173" y="291" width="1" height="1"/><rect x="178" y="291" width="1" height="1"/><rect x="183" y="291" width="1" height="1"/><rect x="188" y="291" width="1" height="1"/><rect x="193" y="291" width="1" height="1"/><rect x="198" y="291" width="1" height="1"/><rect x="203" y="291" width="1" height="1"/><rect x="208" y="291" width="1" height="1"/><rect x="213" y="291" width="1" height="1"/><rect x="218" y="291" width="1" height="1"/><rect x="223" y="291" width="1" height="1"/><rect x="228" y="291" width="1" height="1"/><rect x="233" y="291" width="1" height="1"/><rect x="238" y="291" width="1" height="1"/><rect x="243" y="291" width="1" height="1"/><rect x="248" y="291" width="1" height="1"/><rect x="253" y="291" width="1" height="1"/><rect x="258" y="291" width="1" height="1"/><rect x="263" y="291" width="1" height="1"/><rect x="268" y="291" width="1" height="1"/><rect x="273" y="291" width="1" height="1"/><rect x="278" y="291" width="1" height="1"/><rect x="283" y="291" width="1" height="1"/><rect x="288" y="291" width="1" height="1"/><rect x="293" y="291" width="1" height="1"/><rect x="298" y="291" width="1" height="1"/><rect x="303" y="291" width="1" height="1"/><rect x="308" y="291" width="1" height="1"/><rect x="313" y="291" width="1" height="1"/><rect x="318" y="291" width="1" height="1"/><rect x="323" y="291" width="1" height="1"/><rect x="328" y="291" width="1" height="1"/><rect x="333" y="291" width="1" height="1"/><rect x="338" y="291" width="1" height="1"/><rect x="343" y="291" width="1" height="1"/><rect x="348" y="291" width="1" height="1"/><rect x="353" y="291" width="1" height="1"/><rect x="358" y="291" width="1" height="1"/><rect x="363" y="291" width="1" height="1"/><rect x="368" y="291" width="1" height="1"/><rect x="373" y="291" width="1" height="1"/><rect x="378" y="291" width="1" height="1"/><rect x="383" y="291" width="1" height="1"/><rect x="388" y="291" width="1" height="1"/><rect x="393" y="291" width="1" height="1"/><rect x="398" y="291" width="1" height="1"/><rect x="403" y="291" width="1" height="1"/><rect x="408" y="291" width="1" height="1"/><rect x="413" y="291" width="1" height="1"/><rect x="418" y="291" width="1" height="1"/><rect x="423" y="291" width="1" height="1"/><rect x="428" y="291" width="1" height="1"/><rect x="433" y="291" width="1" height="1"/><rect x="438" y="291" width="1" height="1"/><rect x="443" y="291" width="1" height="1"/><rect x="448" y="291" width="1" height="1"/><rect x="453" y="291" width="1" height="1"/><rect x="458" y="291" width="1" height="1"/><rect x="463" y="291" width="1" height="1"/><rect x="468" y="291" width="1" height="1"/><rect x="473" y="291" width="1" height="1"/><rect x="478" y="291" width="1" height="1"/><rect x="483" y="291" width="1" height="1"/><rect x="488" y="291" width="1" height="1"/><rect x="493" y="291" width="1" height="1"/><rect x="498" y="291" width="1" height="1"/><rect x="503" y="291" width="1" height="1"/><rect x="508" y="291" width="1" height="1"/><rect x="513" y="291" width="1" height="1"/><rect x="518" y="291" width="1" height="1"/><rect x="523" y="291" width="1" height="1"/><rect x="528" y="291" width="1" height="1"/><rect x="533" y="291" width="1" height="1"/><rect x="538" y="291" width="1" height="1"/><rect x="543" y="291" width="1" height="1"/><rect x="548" y="291" width="1" height="1"/><rect x="553" y="291" width="1" height="1"/><rect x="558" y="291" width="1" height="1"/><rect x="563" y="291" width="1" height="1"/><rect x="568" y="291" width="1" height="1"/><rect x="573" y="291" width="1" height="1"/><rect x="578" y="291" width="1" height="1"/><rect x="583" y="291" width="1" height="1"/><rect x="588" y="291" width="1" height="1"/><rect x="593" y="291" width="1" height="1"/><rect x="598" y="291" width="1" height="1"/><rect x="603" y="291" width="1" height="1"/><rect x="608" y="291" width="1" height="1"/><rect x="613" y="291" width="1" height="1"/><rect x="618" y="291" width="1" height="1"/><rect x="623" y="291" width="1" height="1"/><rect x="628" y="291" width="1" height="1"/><rect x="633" y="291" width="1" height="1"/><rect x="638" y="291" width="1" height="1"/><rect x="643" y="291" width="1" height="1"/><rect x="648" y="291" width="1" height="1"/><rect x="653" y="291" width="1" height="1"/><rect x="658" y="291" width="1" height="1"/><rect x="663" y="291" width="1" height="1"/><rect x="668" y="291" width="1" height="1"/><rect x="673" y="291" width="1" height="1"/><rect x="678" y="291" width="1" height="1"/><rect x="683" y="291" width="1" height="1"/><rect x="688" y="291" width="1" height="1"/><rect x="693" y="291" width="1" height="1"/><rect x="698" y="291" width="1" height="1"/><rect x="703" y="291" width="1" height="1"/><rect x="708" y="291" width="1" height="1"/><rect x="713" y="291" width="1" height="1"/><rect x="718" y="291" width="1" height="1"/><rect x="723" y="291" width="1" height="1"/><rect x="728" y="291" width="1" height="1"/><rect x="733" y="291" width="1" height="1"/><rect x="738" y="291" width="1" height="1"/><rect x="743" y="291" width="1" height="1"/><rect x="748" y="291" width="1" height="1"/><rect x="753" y="291" width="1" height="1"/><rect x="758" y="291" width="1" height="1"/><rect x="763" y="291" width="1" height="1"/><rect x="768" y="291" width="1" height="1"/><rect x="773" y="291" width="1" height="1"/><rect x="778" y="291" width="1" height="1"/><rect x="783" y="291" width="1" height="1"/><rect x="788" y="291" width="1" height="1"/><rect x="793" y="291" width="1" height="1"/><rect x="798" y="291" width="1" height="1"/><rect x="803" y="291" width="1" height="1"/><rect x="808" y="291" width="1" height="1"/><rect x="813" y="291" width="1" height="1"/><rect x="818" y="291" width="1" height="1"/><rect x="823" y="291" width="1" height="1"/><rect x="828" y="291" width="1" height="1"/><rect x="833" y="291" width="1" height="1"/><rect x="838" y="291" width="1" height="1"/><rect x="843" y="291" width="1" height="1"/><rect x="848" y="291" width="1" height="1"/><rect x="853" y="291" width="1" height="1"/><rect x="858" y="291" width="1" height="1"/><rect x="863" y="291" width="1" height="1"/><rect x="868" y="291" width="1" height="1"/><rect x="873" y="291" width="1" height="1"/><rect x="878" y="291" width="1" height="1"/><rect x="883" y="291" width="1" height="1"/><rect x="888" y="291" width="1" height="1"/><rect x="893" y="291" width="1" height="1"/><rect x="898" y="291" width="1" height="1"/><rect x="903" y="291" width="1" height="1"/><rect x="908" y="291" width="1" height="1"/><rect x="913" y="291" width="1" height="1"/><rect x="918" y="291" width="1" height="1"/></g>
<polyline points="79,288.7 90,289 107,289.6 125,289.3 139,288.8 160,289 177.5,288.5 194,289.8 203.5,289.8 206.6,285.2 208.8,279.9 212.4,283.5 216,283.9 219.6,286.1 224.7,285.7 226.5,282.1 231.2,282.1 238.2,282 242.6,284.6 246.2,283.1 249.8,282.7 252.7,284.9 256.3,283.4 263.5,283.1 268.5,281.3 272.2,283.1 275.8,284.9 278.6,282 286.6,282.4 290.9,284.6 295.2,282 299.6,282.7 302.5,280.3 305.3,281.3 307.5,280.3 315.4,281.7 319,283.9 324.1,282.8 326.3,283.4 330.6,281.6 334.6,277.8 338.2,280.6 340,279.9 341.7,274.3 343.8,274.7 345.9,268 348.3,269.8 350.4,265.3 352.1,268.8 354.2,263.2 355.6,265.3 356.6,256.8 359.1,252.3 361.8,260 364.6,257.3 367.8,249.1 370.5,249.6 373.2,252.8 376.4,228.2 378.2,235.5 380,224.6 381.4,230 382.3,240 385.1,243.2 386.9,239.1 389.2,242.3 391,235.9 392.8,239.1 395.1,244.1 397.4,242.8 399.6,246 404.6,227.4 406.2,230.3 409.7,219.5 413.3,228.7 416.5,222.2 418.2,221.1 420.8,199.4 423,205.9 425.2,204.8 426.9,207 428.4,199.4 429.5,200.5 431.7,175.1 433.9,188.6 436,183.1 439.9,165.8 442.1,173.4 443.6,172.3 445.4,163 447.3,176.6 450.1,186 454.5,175.1 457.7,172.3 459.5,174.5 461,170.1 462.5,171.2 466,150.6 467.5,168 469.7,165.8 471.8,169 474.6,175.5 477.2,186.4 482.7,169 486.4,188.6 489.8,173.4 492.2,178.9 497.6,128 499.8,142 501.9,143.1 506.9,135.6 508.4,136.6 510,130.1 512.3,103.4 514.9,104.1 517.1,109.5 520.4,122.5 523.6,131.2 526.9,123.6 528.6,124.7 530.1,109.1 533,123.6 535.1,124.7 538.2,152.9 541,148.6 543.8,156.2 546.8,137.7 549,130.8 552.9,149.7 556.2,157.2 559,143.1 561.6,151.8 564.8,142 568.1,123.6 570.3,137.7 572.4,135.6 575.7,138.8 576.8,137.7 580.7,159 582.8,155.1 585,159 587.6,137.5 589.1,135.7 590.6,138.2 592.1,136 594.4,103.3 596.7,104.9 599,104.1 601.2,110.2 602.8,104.1 604.3,108.7 606.1,106.4 608.1,102.3 609.6,115.5 611.9,109.4 614.9,55.5 617.4,70 621.2,38.5 623.2,33.6 626,45.3 628.2,61 628.8,86 630.5,88.5 632.7,106.5 634.4,100.8 635.3,101.5 637,92.7 638.6,97 640.6,124.7 642.9,115.8 645,114 647,120.5 649.4,133.5 651.8,108 654.8,105.6 655.8,115.8 657.2,111 659.6,114 662.2,125 667.3,104.4 668.5,105 672.7,124.2 675.1,117 677.4,118 679.2,97.9 682,83.8 684.6,87.2 687.6,92.5 690,89 691.2,85.7 693.1,64 694.6,91 696.6,97 698.1,109.9 699.6,110.4 702.6,100.1 704.1,95.5 705.2,83.4 706.4,93.2 707.9,86.4 710.2,64.4 711.7,65.2 712.9,62.9 714.8,59.9 716.7,74.3 717.8,76.6 718.9,95.5 721.6,93.2 724.6,88.7 726.1,89.5 728.4,104.6 730.7,95.5 731.5,96.3 733.7,115.2 735.5,120 739.6,106.8 742.3,106.1 744.1,121.2 746.4,144 747.9,132.6 749.4,131.9 753.2,121.2 754.4,122 755.9,142.5 758.5,143.2 761.1,151.6 763.8,140.2 766.9,150.8 771.4,140.2 774.8,138.7 776.7,144 779,153.1 782,156.9 784.3,160.7 787.4,150.8 789.6,153.9 791.4,149.3 793.4,153.9 795.7,141 798.7,141 800.3,139.5 803.3,144 804.8,144.8 807.1,135.7 809.4,137.2 813.1,126.6 814.7,127.3 817.7,137.9 820,141 821.5,150.1 823,148.6 824.5,150.1 826.8,151.1 828.8,161 830.8,165.5 832.3,155.7 834.4,162.5 836.4,166.3 838.7,161 840.2,162.5 842,165.5 843.5,151.9 846.2,152.6 848.5,154.1 850,157.2 852,152.2 853.8,154.9 855.3,149.6 856.9,151.9 860.2,161 862.2,159.2 864.1,166.3 866,164.8 868.2,170.1 869.8,174.6 871.7,178.4 873.6,167.8 877.4,161 878.9,162.5 881.4,156.4 883.4,166.3 886.5,169.3 888.7,169.3 890.3,173.9 891.8,170.8 894,173.1 895.1,161.7 897.1,159.4 900.1,148.1 902.4,149.6 904.7,139 906.9,142.8 908.2,142 910.7,146.6 912.3,145.8 916.8,155.7 919.8,150.3 921.4,140.5 923,142" fill="none" stroke="#16c784" stroke-width="2.7" stroke-linejoin="round" stroke-linecap="round"/>
<rect x="5" y="283" width="74" height="18" fill="#fff" opacity="0.85"/>
<rect x="3" y="290" width="2" height="1.5" fill="#16c784"/>
<rect x="3" y="291.5" width="2" height="1.5" fill="#ea3943"/>
<g transform="translate(724,352)" fill="none" stroke="#cfd6e4" stroke-width="2.7" stroke-linecap="round" stroke-linejoin="round">
<path d="M29.2 29.4 A13.7 13.7 0 1 1 33.6 21.2"/>
<path d="M10.5 26 L17.3 14.9 Q18.2 13.6 18.7 15.2 L19.6 22.8 Q20.1 24.8 21.2 23 L24.2 17.2 Q25.8 14.4 27.5 17 L29.4 22.4 Q30.3 24.3 31.8 23 L33.6 21.2"/>
</g>
</svg>
<div class="xl" style="left:23.8px">11 May</div><div class="xl" style="left:155.0px">12 May</div><div class="xl" style="left:286.3px">13 May</div><div class="xl" style="left:417.5px">14 May</div><div class="xl" style="left:548.8px">15 May</div><div class="xl" style="left:680.0px">16 May</div><div class="xl" style="left:811.2px">17 May</div>
<div class="yl" style="top:69px">0.30</div>
<div class="yl" style="top:215px">0.10</div>
<div class="badge">0.21</div>
<div class="open">0.005746</div>
<div class="usd">USD</div>
<div class="wm">CoinMarketCap</div>
</body></html>
